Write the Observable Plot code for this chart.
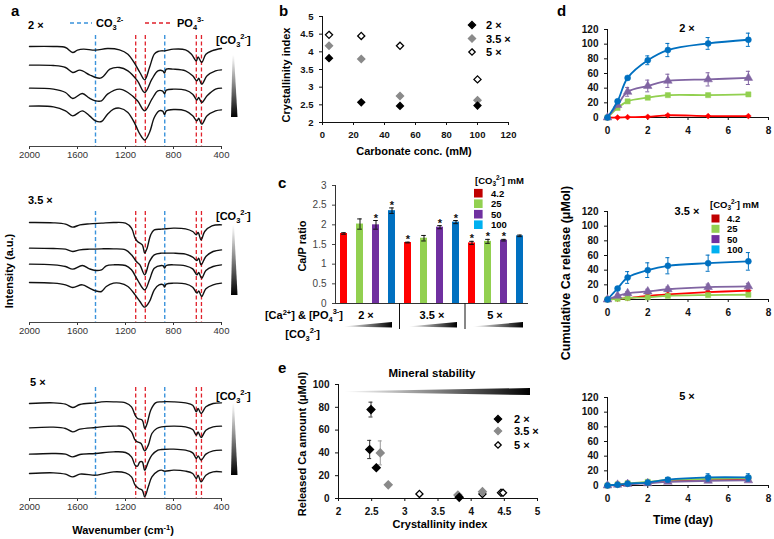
<!DOCTYPE html>
<html>
<head>
<meta charset="utf-8">
<script src="https://cdn.jsdelivr.net/npm/d3@7"></script>
<script src="https://cdn.jsdelivr.net/npm/@observablehq/plot@0.6"></script>
<style>
  html, body { margin: 0; padding: 0; background: #fff; }
  #root { position: relative; width: 774px; height: 539px; overflow: hidden; font-family: Arial, "Liberation Sans", Helvetica, sans-serif; }
  .panel { position: absolute; }
  .panel svg { display: block; overflow: visible; }
  #overlay { position: absolute; left: 0; top: 0; }
</style>
</head>
<body>
<div id="root"></div>
<script>
// ================= DATA =================
// --- a: FTIR spectra, [wavenumber (cm-1), intensity (a.u.)], top to bottom = increasing [CO3 2-]
const wavenumberTicks = [2000, 1600, 1200, 800, 400];
const co3Bands = [1450, 873];
const po4Bands = [1115, 1035, 610, 567];

const ftir2x_42 = [[2000,300],[1800,300],[1700,297],[1640,282],[1600,289],[1550,292],[1450,289],[1350,294],[1250,290],[1180,277],[1120,247],[1080,222],[1040,200],[1000,237],[960,277],[930,285],[900,287],[875,287],[800,292],[700,290],[650,277],[610,257],[595,269],[565,252],[530,277],[480,287],[400,294]];
const ftir2x_25 = [[2000,244],[1800,243],[1700,237],[1640,222],[1580,229],[1500,215],[1450,207],[1410,205],[1380,212],[1330,232],[1250,237],[1180,227],[1100,197],[1040,162],[980,202],[930,227],[890,227],[875,220],[860,232],[800,232],[700,227],[640,212],[605,197],[590,205],[565,187],[520,212],[450,227],[400,230]];
const ftir2x_50 = [[2000,175],[1800,172],[1700,162],[1640,144],[1560,159],[1500,145],[1450,137],[1400,137],[1350,157],[1250,172],[1180,162],[1100,137],[1040,107],[980,142],[930,167],[890,166],[875,158],[860,169],[800,172],[700,169],[640,157],[605,139],[590,147],[565,132],[520,152],[450,172],[400,175]];
const ftir2x_100 = [[2000,121],[1800,119],[1700,107],[1640,92],[1560,107],[1500,92],[1450,77],[1400,75],[1350,97],[1300,112],[1250,115],[1180,102],[1120,67],[1080,37],[1040,19],[1000,42],[960,87],[920,107],[890,106],[875,96],[860,107],[800,111],[700,107],[640,92],[605,77],[590,85],[565,67],[520,92],[450,107],[400,110]];

const ftir35x_42 = [[2000,300],[1800,299],[1700,295],[1640,286],[1580,293],[1500,296],[1400,298],[1300,300],[1200,298],[1150,283],[1120,253],[1100,243],[1060,233],[1040,208],[1020,223],[990,263],[960,278],[900,280],[875,281],[800,283],[700,281],[640,273],[610,263],[595,270],[570,248],[540,273],[480,290],[400,293]];
const ftir35x_25 = [[2000,223],[1800,222],[1700,220],[1640,213],[1580,218],[1500,220],[1400,221],[1300,221],[1200,218],[1150,203],[1110,183],[1080,173],[1040,143],[1000,183],[960,203],[900,208],[875,208],[800,208],[700,205],[640,196],[605,186],[590,193],[570,173],[530,198],[470,213],[400,218]];
const ftir35x_50 = [[2000,175],[1800,173],[1700,168],[1640,160],[1560,171],[1500,161],[1450,156],[1400,158],[1360,170],[1300,173],[1200,171],[1150,158],[1100,128],[1040,98],[1000,128],[960,163],[900,171],[885,170],[875,163],[860,171],[800,173],[700,170],[640,161],[605,143],[590,150],[565,133],[530,156],[470,168],[400,173]];
const ftir35x_100 = [[2000,120],[1800,118],[1700,113],[1640,105],[1560,113],[1500,103],[1450,95],[1400,93],[1360,108],[1300,118],[1250,118],[1180,108],[1120,83],[1080,63],[1040,46],[1000,63],[960,98],[920,113],[885,113],[875,106],[860,115],[800,118],[700,116],[640,106],[605,88],[590,95],[565,78],[530,101],[470,113],[400,118]];

const ftir5x_42 = [[2000,285],[1800,287],[1700,283],[1640,273],[1580,282],[1450,287],[1400,290],[1300,290],[1200,287],[1150,275],[1120,250],[1100,240],[1060,235],[1040,210],[1020,225],[990,265],[950,287],[900,290],[800,290],[700,287],[640,280],[610,260],[595,270],[570,255],[530,275],[470,285],[400,287]];
const ftir5x_25 = [[2000,212],[1800,214],[1700,210],[1640,200],[1580,208],[1450,213],[1300,217],[1200,215],[1150,200],[1120,175],[1100,170],[1070,165],[1040,143],[1010,160],[980,195],[940,210],[900,215],[800,217],[700,215],[640,207],[610,190],[595,200],[570,183],[530,205],[470,215],[400,217]];
const ftir5x_50 = [[2000,133],[1800,135],[1700,133],[1640,125],[1580,132],[1450,135],[1300,140],[1200,138],[1150,125],[1120,100],[1100,97],[1080,110],[1060,110],[1040,85],[1010,110],[980,130],[930,145],[900,147],[800,148],[700,145],[640,137],[610,120],[595,128],[570,115],[530,133],[470,143],[400,145]];
const ftir5x_100 = [[2000,75],[1800,77],[1700,73],[1640,65],[1580,73],[1450,70],[1400,73],[1300,80],[1200,77],[1150,65],[1120,40],[1090,30],[1060,25],[1040,5],[1010,35],[980,65],[930,82],[900,85],[875,82],[800,85],[700,82],[640,75],[610,60],[595,70],[570,50],[530,70],[470,80],[400,80]];

// --- b: crystallinity index vs carbonate concentration
const carbonateConc = [4.2, 25, 50, 100];
const carbonateTicks = [0, 20, 40, 60, 80, 100, 120];
const crystTicks = [2, 2.5, 3, 3.5, 4, 4.5, 5];
const ci2x = [3.82, 2.57, 2.47, 2.48];
const ci35x = [4.17, 3.80, 2.75, 2.63];
const ci5x = [4.48, 4.45, 4.17, 3.22];

// --- c: Ca/P ratio
const ratioGroups = ["2 ×", "3.5 ×", "5 ×"];
const co3Levels = ["4.2", "25", "50", "100"];
const caPTicks = [0, 0.5, 1, 1.5, 2, 2.5, 3];
const caP2x = [1.78, 2.02, 2.00, 2.36];
const caP35x = [1.55, 1.66, 1.94, 2.07];
const caP5x = [1.54, 1.58, 1.61, 1.72];
const caPErr2x = [0.02, 0.13, 0.11, 0.07];
const caPErr35x = [0.01, 0.07, 0.04, 0.04];
const caPErr5x = [0.04, 0.05, 0.02, 0.02];
const caPSig2x = [0, 0, 1, 1];
const caPSig35x = [1, 0, 1, 1];
const caPSig5x = [1, 1, 1, 0];

// --- d: cumulative Ca release (rows: 4.2, 25, 50, 100 mM)
const days = [0, 0.5, 1, 2, 3, 5, 7];
const dayTicks = [0, 2, 4, 6, 8];
const releaseTicks = [0, 20, 40, 60, 80, 100, 120];
const rel2x = [[0,0,0.5,1,3,2,2],[0,13,22,27,30.5,30.5,31.5],[0,17,35,43,50,52,54],[0,22,54,78,92,101,106]];
const relErr2x = [[0,0,0,0,1,0,0],[0,0,1,1,1,1,1],[0,0,6,8,9,9,9],[0,0,2,6,9,8,9]];
const rel35x = [[0,1,2,5,7,10,12],[0,1,2,3,5,6,6.5],[0,5,8.5,11,14,17,18],[0,15,30,40,46,49.5,52]];
const relErr35x = [[0,0,0,1,1,2,2],[0,0,0,0,0,0,0],[0,1,2,3,3,4,4],[0,2,8,10,11,11,12]];
const rel5x = [[0,1,2,4,6,8,9],[0,1.5,3,5,7.5,9,10],[0,1,2,3,5,6.5,7],[0,1,2.5,4,8,11,11]];
const relErr5x = [[0,0,0,0,1,1,1],[0,0,0,1,1,2,2],[0,0,0,0,1,1,1],[0,0,1,1,3,5,5]];

// --- e: released Ca vs crystallinity index
const ciTicksE = [2, 2.5, 3, 3.5, 4, 4.5, 5];
const releasedTicks = [0, 20, 40, 60, 80, 100];
const eCi2x = [2.47, 2.49, 2.57, 3.82];
const eRel2x = [43, 78, 27, 1];
const eErr2x = [8, 6.5, 0, 0];
const eCi35x = [2.63, 2.75, 3.80, 4.17];
const eRel35x = [40, 12, 3, 6];
const eErr35x = [10.5, 0, 0, 0];
const eCi5x = [3.22, 4.17, 4.45, 4.48];
const eRel5x = [4, 4, 5, 5];

// ================= STYLE =================
const FONT = 'Arial, "Liberation Sans", Helvetica, sans-serif';
const barColors = ["#ff0000", "#92d050", "#7030a0", "#0070c0"];
const legendColors = ["#c00000", "#92d050", "#7030a0", "#00b0f0"];
const lineColors = ["#ff0000", "#92d050", "#8064a2", "#0070c0"];
const lineSymbols = ["diamond2", "square", "triangle", "circle"];
const lineR = [2.6, 2.9, 3.2, 3.0];

const root = document.getElementById("root");
function place(el, left, top) {
  const div = document.createElement("div");
  div.className = "panel";
  div.style.left = left + "px";
  div.style.top = top + "px";
  div.appendChild(el);
  root.appendChild(div);
}

// ---- a ----
function ftirPlot(curves) {
  return Plot.plot({
    width: 260, height: 165,
    marginLeft: 29, marginRight: 39, marginTop: 35, marginBottom: 19,
    x: {domain: [2000, 400], ticks: wavenumberTicks, tickSize: 3, tickPadding: 2, tickFormat: d => String(d), label: null},
    y: {domain: [0, 333], axis: null},
    style: {fontFamily: FONT, fontSize: "9.5px", color: "#333", background: "transparent", overflow: "visible"},
    marks: [
      Plot.ruleX(co3Bands, {stroke: "#3a93db", strokeWidth: 1.4, strokeDasharray: "4,2.5"}),
      Plot.ruleX(po4Bands, {stroke: "#e0202a", strokeWidth: 1.3, strokeDasharray: "4,2.5"}),
      ...curves.map(c => Plot.line(c, {x: d => d[0], y: d => d[1], curve: "catmull-rom", stroke: "#111", strokeWidth: 1.4})),
      Plot.ruleY([0], {stroke: "#444", strokeWidth: 1})
    ]
  });
}
place(ftirPlot([ftir2x_42, ftir2x_25, ftir2x_50, ftir2x_100]), 0, 0);
place(ftirPlot([ftir35x_42, ftir35x_25, ftir35x_50, ftir35x_100]), 0, 176);
place(ftirPlot([ftir5x_42, ftir5x_25, ftir5x_50, ftir5x_100]), 0, 352);

// ---- b ----
{
  const pts = (vals) => carbonateConc.map((c, i) => ({c, v: vals[i]}));
  place(Plot.plot({
    width: 260, height: 165,
    marginLeft: 32, marginRight: 42, marginTop: 16, marginBottom: 43,
    x: {domain: [0, 120], ticks: carbonateTicks, tickSize: 3, tickFormat: d => String(d), label: null},
    y: {domain: [2, 5], ticks: crystTicks, tickSize: 3, tickFormat: d => String(d), label: null},
    style: {fontFamily: FONT, fontSize: "9.5px", fontWeight: "bold", color: "#111", background: "transparent", overflow: "visible"},
    marks: [
      Plot.ruleX([0], {stroke: "#111"}),
      Plot.ruleY([2], {stroke: "#111"}),
      Plot.dot(pts(ci5x), {x: "c", y: "v", symbol: "diamond2", r: 3.2, fill: "#fff", stroke: "#000", strokeWidth: 1.3}),
      Plot.dot(pts(ci35x), {x: "c", y: "v", symbol: "diamond2", r: 3.1, fill: "#8a8a8a", stroke: "#8a8a8a"}),
      Plot.dot(pts(ci2x), {x: "c", y: "v", symbol: "diamond2", r: 3.0, fill: "#000", stroke: "#000"})
    ]
  }), 290, 0);
}

// ---- c ----
{
  const vals = [caP2x, caP35x, caP5x], errs = [caPErr2x, caPErr35x, caPErr5x], sigs = [caPSig2x, caPSig35x, caPSig5x];
  const rows = [];
  ratioGroups.forEach((g, gi) => co3Levels.forEach((c, ci) => rows.push({
    key: g + "|" + c, v: vals[gi][ci], e: errs[gi][ci], sig: sigs[gi][ci], color: barColors[ci]
  })));
  place(Plot.plot({
    width: 260, height: 170,
    marginLeft: 45, marginRight: 22, marginTop: 15, marginBottom: 37,
    x: {domain: rows.map(d => d.key), paddingInner: 0.58, paddingOuter: 0.31, axis: null},
    y: {domain: [0, 3], ticks: caPTicks, tickSize: 3, tickFormat: d => String(d), label: null},
    color: {type: "identity"},
    style: {fontFamily: FONT, fontSize: "10px", color: "#444", background: "transparent", overflow: "visible"},
    marks: [
      Plot.barY(rows, {x: "key", y: "v", fill: "color"}),
      Plot.ruleX(rows, {x: "key", y1: d => d.v - d.e, y2: d => d.v + d.e, stroke: "#111", strokeWidth: 1}),
      Plot.tickY(rows, {x: "key", y: d => d.v + d.e, stroke: "#111", insetLeft: 1.2, insetRight: 1.2}),
      Plot.tickY(rows, {x: "key", y: d => d.v - d.e, stroke: "#111", insetLeft: 1.2, insetRight: 1.2}),
      Plot.text(rows.filter(d => d.sig), {x: "key", y: d => d.v + d.e, text: () => "*", dy: -2.5, fontSize: 11, fontWeight: "bold", fill: "#111"}),
      Plot.ruleY([0], {stroke: "#333"}),
      Plot.frame({anchor: "left", stroke: "#333"})
    ]
  }), 290, 170);
}

// ---- d ----
function releasePlot(rel, err) {
  const rows = [];
  rel.forEach((vals, s) => vals.forEach((v, i) => rows.push({s, t: days[i], v, e: err[s][i]})));
  const eb = rows.filter(d => d.e > 0);
  const marks = [Plot.ruleY([0], {stroke: "#111"}), Plot.ruleX([0], {stroke: "#111"})];
  for (let s = 0; s < 4; s++) {
    const r = rows.filter(d => d.s === s), e = eb.filter(d => d.s === s);
    marks.push(
      Plot.line(r, {x: "t", y: "v", curve: "catmull-rom", stroke: lineColors[s], strokeWidth: 1.8}),
      Plot.ruleX(e, {x: "t", y1: d => d.v - d.e, y2: d => d.v + d.e, stroke: lineColors[s], strokeWidth: 1}),
      Plot.ruleY(e, {y: d => d.v + d.e, x1: d => d.t - 0.1, x2: d => d.t + 0.1, stroke: lineColors[s], strokeWidth: 1}),
      Plot.ruleY(e, {y: d => d.v - d.e, x1: d => d.t - 0.1, x2: d => d.t + 0.1, stroke: lineColors[s], strokeWidth: 1}),
      Plot.dot(r, {x: "t", y: "v", symbol: lineSymbols[s], r: lineR[s], fill: lineColors[s], stroke: lineColors[s], strokeWidth: 0.5})
    );
  }
  return Plot.plot({
    width: 224, height: 140,
    marginLeft: 57, marginRight: 6, marginTop: 29, marginBottom: 23,
    x: {domain: [0, 8], ticks: dayTicks, tickSize: 3, tickFormat: d => String(d), label: null},
    y: {domain: [0, 120], ticks: releaseTicks, tickSize: 3, tickFormat: d => String(d), label: null},
    style: {fontFamily: FONT, fontSize: "10px", fontWeight: "bold", color: "#111", background: "transparent", overflow: "visible"},
    marks
  });
}
place(releasePlot(rel2x, relErr2x), 550, 0);
place(releasePlot(rel35x, relErr35x), 550, 182);
place(releasePlot(rel5x, relErr5x), 550, 368);

// ---- e ----
{
  const pts = (ci, rel, err) => ci.map((c, i) => ({c, v: rel[i], e: err ? err[i] : 0}));
  const p2 = pts(eCi2x, eRel2x, eErr2x), p35 = pts(eCi35x, eRel35x, eErr35x), p5 = pts(eCi5x, eRel5x);
  const errMarks = (p, color) => {
    const e = p.filter(d => d.e > 0);
    return [
      Plot.ruleX(e, {x: "c", y1: d => d.v - d.e, y2: d => d.v + d.e, stroke: color, strokeWidth: 1}),
      Plot.ruleY(e, {y: d => d.v + d.e, x1: d => d.c - 0.03, x2: d => d.c + 0.03, stroke: color, strokeWidth: 1}),
      Plot.ruleY(e, {y: d => d.v - d.e, x1: d => d.c - 0.03, x2: d => d.c + 0.03, stroke: color, strokeWidth: 1})
    ];
  };
  place(Plot.plot({
    width: 260, height: 180,
    marginLeft: 48, marginRight: 13, marginTop: 44, marginBottom: 22,
    x: {domain: [2, 5], ticks: ciTicksE, tickSize: 3, tickFormat: d => String(d), label: null},
    y: {domain: [0, 100], ticks: releasedTicks, tickSize: 3, tickFormat: d => String(d), label: null},
    style: {fontFamily: FONT, fontSize: "10px", fontWeight: "bold", color: "#111", background: "transparent", overflow: "visible"},
    marks: [
      Plot.ruleX([2], {stroke: "#111"}),
      Plot.ruleY([0], {stroke: "#111"}),
      ...errMarks(p35, "#999"),
      ...errMarks(p2, "#333"),
      Plot.dot(p5, {x: "c", y: "v", symbol: "diamond2", r: 3.2, fill: "#fff", stroke: "#000", strokeWidth: 1.3}),
      Plot.dot(p35, {x: "c", y: "v", symbol: "diamond2", r: 3.4, fill: "#8a8a8a", stroke: "#8a8a8a"}),
      Plot.dot(p2, {x: "c", y: "v", symbol: "diamond2", r: 3.4, fill: "#000", stroke: "#000"})
    ]
  }), 290, 340);
}

// ================= ANNOTATIONS (titles, legends, wedges) =================
const co3 = (fs) => `CO<tspan font-size="${fs * 0.68}" baseline-shift="-${fs * 0.25}">3</tspan><tspan font-size="${fs * 0.68}" baseline-shift="${fs * 0.45}">2-</tspan>`;
const po4 = (fs) => `PO<tspan font-size="${fs * 0.68}" baseline-shift="-${fs * 0.25}">4</tspan><tspan font-size="${fs * 0.68}" baseline-shift="${fs * 0.45}">3-</tspan>`;
const dia = (x, y, fill, stroke, h = 3.6) => `<path d="M${x},${y - h}L${x + h},${y}L${x},${y + h}L${x - h},${y}Z" fill="${fill}" stroke="${stroke}" stroke-width="1.3"/>`;

let ov = `<svg id="overlay" xmlns="http://www.w3.org/2000/svg" width="774" height="539" font-family='${FONT}' fill="#000">
<defs>
  <linearGradient id="gv" x1="0" y1="0" x2="0" y2="1"><stop offset="0" stop-color="#fff"/><stop offset="1" stop-color="#000"/></linearGradient>
  <linearGradient id="gh" x1="0" y1="0" x2="1" y2="0"><stop offset="0" stop-color="#fff"/><stop offset="1" stop-color="#000"/></linearGradient>
</defs>
<g font-weight="bold">
  <text x="11" y="16" font-size="15">a</text>
  <text x="279" y="16" font-size="15">b</text>
  <text x="278" y="188" font-size="15">c</text>
  <text x="557" y="16" font-size="15">d</text>
  <text x="278" y="373" font-size="15">e</text>
</g>
<g font-weight="bold" font-size="11">
  <text x="28" y="29">2 ×</text>
  <text x="28" y="204">3.5 ×</text>
  <text x="30" y="386">5 ×</text>
  <line x1="70" y1="23" x2="92" y2="23" stroke="#3a93db" stroke-width="1.6" stroke-dasharray="4,3"/>
  <text x="96" y="27">${co3(11)}</text>
  <line x1="145" y1="23" x2="172" y2="23" stroke="#e0202a" stroke-width="1.6" stroke-dasharray="4,3"/>
  <text x="177" y="27">${po4(11)}</text>
  <text x="216" y="44">[${co3(11)}]</text>
  <text x="216" y="220">[${co3(11)}]</text>
  <text x="216" y="400">[${co3(11)}]</text>
  <text transform="translate(13,271) rotate(-90)" text-anchor="middle">Intensity (a.u.)</text>
  <text x="123" y="534" text-anchor="middle">Wavenumber (cm<tspan font-size="7.5" baseline-shift="4">-1</tspan>)</text>
</g>
<polygon points="232.5,55 234,55 237.5,117 231,117" fill="url(#gv)"/>
<polygon points="232.5,225 234,225 237.5,295 231,295" fill="url(#gv)"/>
<polygon points="232.5,403 234,403 237.5,475 231,475" fill="url(#gv)"/>

<g font-weight="bold" font-size="11">
  <text transform="translate(290,75) rotate(-90)" text-anchor="middle">Crystallinity index</text>
  <text x="414" y="155" text-anchor="middle">Carbonate conc. (mM)</text>
  ${dia(472, 25, "#000", "#000")}
  ${dia(472, 38.5, "#8a8a8a", "#8a8a8a")}
  ${dia(472, 52, "#fff", "#000", 3.2)}
  <text x="486" y="29">2 ×</text>
  <text x="486" y="42.5">3.5 ×</text>
  <text x="486" y="56">5 ×</text>
</g>

<g font-weight="bold" font-size="11">
  <text transform="translate(306,246) rotate(-90)" text-anchor="middle">Ca/P ratio</text>
  <text x="343" y="319" text-anchor="end">[Ca<tspan font-size="7.5" baseline-shift="4.5">2+</tspan>] &amp;  [${po4(11)}]</text>
  <text x="320" y="338" text-anchor="end">[${co3(11)}]</text>
  <text x="366" y="319" text-anchor="middle">2 ×</text>
  <text x="432" y="319" text-anchor="middle">3.5 ×</text>
  <text x="495" y="319" text-anchor="middle">5 ×</text>
  <text x="475" y="183.5" font-size="9.5">[${co3(9.5)}] mM</text>
</g>
<line x1="399.5" y1="303" x2="399.5" y2="329" stroke="#111" stroke-width="1"/>
<line x1="465" y1="303" x2="465" y2="329" stroke="#111" stroke-width="1"/>
<polygon points="343,326.5 392,322 392,327.5" fill="url(#gh)"/>
<polygon points="408,326.5 457,322 457,327.5" fill="url(#gh)"/>
<polygon points="472,326.5 523,322 523,327.5" fill="url(#gh)"/>
`;
// legend for c
co3Levels.forEach((c, i) => {
  const y = 193.2 + i * 10.5;
  ov += `<rect x="474" y="${y - 4.3}" width="8.6" height="8.6" fill="${legendColors[i]}"/>`;
  ov += `<text x="491" y="${y + 3.4}" font-size="9.5" font-weight="bold">${c}</text>`;
});
// d annotations
ov += `<g font-weight="bold">
  <text x="687" y="32" text-anchor="middle" font-size="11">2 ×</text>
  <text x="687" y="215" text-anchor="middle" font-size="11">3.5 ×</text>
  <text x="687" y="400" text-anchor="middle" font-size="11">5 ×</text>
  <text x="710" y="208" font-size="9.5">[${co3(9.5)}] mM</text>
  <text transform="translate(570,273) rotate(-90)" text-anchor="middle" font-size="12.5">Cumulative Ca release (μMol)</text>
  <text x="683" y="524" text-anchor="middle" font-size="12">Time (day)</text>
</g>`;
co3Levels.forEach((c, i) => {
  const y = 218.5 + i * 10.3;
  ov += `<rect x="711.5" y="${y - 4}" width="8" height="8" fill="${legendColors[i]}"/>`;
  ov += `<text x="727" y="${y + 3.4}" font-size="9.5" font-weight="bold">${c}</text>`;
});
// e annotations
ov += `<g font-weight="bold" font-size="11">
  <text x="432" y="377" text-anchor="middle" font-size="11.5">Mineral stability</text>
  <text transform="translate(306,444) rotate(-90)" text-anchor="middle">Released Ca amount (μMol)</text>
  <text x="440" y="528" text-anchor="middle">Crystallinity index</text>
  ${dia(498, 419, "#000", "#000")}
  ${dia(498, 431, "#8a8a8a", "#8a8a8a")}
  ${dia(498, 445, "#fff", "#000", 3.2)}
  <text x="514" y="423">2 ×</text>
  <text x="514" y="435">3.5 ×</text>
  <text x="514" y="449">5 ×</text>
</g>
<polygon points="345,391.3 530,388 530,395 345,392" fill="url(#gh)"/>
</svg>`;
root.insertAdjacentHTML("beforeend", ov);
</script>
</body>
</html>
